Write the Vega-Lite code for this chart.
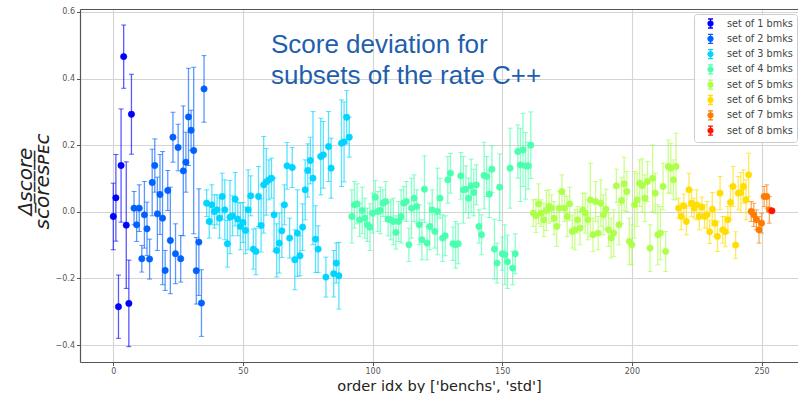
{
"$schema": "https://vega.github.io/schema/vega-lite/v6.json",
"width": 718, "height": 353,
"autosize": {"type": "none"},
"padding": {"left": 80, "top": 9, "right": 0, "bottom": 31},
"background": "white",
"config": {"view": {"stroke": null}, "font": "DejaVu Sans"},
"datasets": {
"note": [{"tx": 60.8, "ty": 0.4766, "label": "Score deviation for\nsubsets of the rate C++"}],
"pts": [
{"i":0,"v":-0.014,"e":0.10,"s":1},{"i":1,"v":0.042,"e":0.13,"s":1},{"i":2,"v":-0.285,"e":0.095,"s":1},{"i":3,"v":0.139,"e":0.17,"s":1},{"i":4,"v":0.466,"e":0.095,"s":1},{"i":5,"v":-0.04,"e":0.19,"s":1},{"i":6,"v":-0.275,"e":0.13,"s":1},{"i":7,"v":0.293,"e":0.12,"s":1},
{"i":8,"v":0.011,"e":0.05,"s":2},{"i":9,"v":-0.039,"e":0.05,"s":2},{"i":10,"v":0.011,"e":0.07,"s":2},{"i":11,"v":-0.141,"e":0.04,"s":2},{"i":12,"v":-0.009,"e":0.10,"s":2},{"i":13,"v":-0.051,"e":0.08,"s":2},{"i":14,"v":-0.142,"e":0.06,"s":2},{"i":15,"v":0.088,"e":0.10,"s":2},{"i":16,"v":0.139,"e":0.08,"s":2},{"i":17,"v":-0.006,"e":0.11,"s":2},{"i":18,"v":0.052,"e":0.12,"s":2},{"i":19,"v":-0.019,"e":0.2,"s":2},{"i":20,"v":-0.176,"e":0.06,"s":2},{"i":21,"v":0.064,"e":0.06,"s":2},{"i":22,"v":-0.086,"e":0.16,"s":2},{"i":23,"v":0.224,"e":0.075,"s":2},{"i":24,"v":-0.126,"e":0.09,"s":2},{"i":25,"v":0.193,"e":0.07,"s":2},{"i":26,"v":-0.141,"e":0.07,"s":2},{"i":27,"v":0.123,"e":0.195,"s":2},{"i":28,"v":0.149,"e":0.09,"s":2},{"i":29,"v":0.285,"e":0.146,"s":2},{"i":30,"v":0.245,"e":0.06,"s":2},{"i":31,"v":0.184,"e":0.25,"s":2},{"i":32,"v":-0.177,"e":0.10,"s":2},{"i":33,"v":-0.091,"e":0.16,"s":2},{"i":34,"v":-0.274,"e":0.10,"s":2},{"i":35,"v":0.369,"e":0.10,"s":2},
{"i":36,"v":0.026,"e":0.04,"s":3},{"i":37,"v":-0.029,"e":0.05,"s":3},{"i":38,"v":0.021,"e":0.06,"s":3},{"i":39,"v":0.001,"e":0.05,"s":3},{"i":40,"v":0.006,"e":0.045,"s":3},{"i":41,"v":-0.019,"e":0.06,"s":3},{"i":42,"v":0.046,"e":0.07,"s":3},{"i":43,"v":0.006,"e":0.09,"s":3},{"i":44,"v":-0.096,"e":0.07,"s":3},{"i":45,"v":-0.016,"e":0.11,"s":3},{"i":46,"v":-0.012,"e":0.06,"s":3},{"i":47,"v":0.038,"e":0.08,"s":3},{"i":48,"v":-0.022,"e":0.05,"s":3},{"i":49,"v":-0.044,"e":0.07,"s":3},{"i":50,"v":-0.032,"e":0.06,"s":3},{"i":51,"v":-0.056,"e":0.07,"s":3},{"i":52,"v":0.006,"e":0.12,"s":3},{"i":53,"v":0.048,"e":0.06,"s":3},{"i":54,"v":-0.112,"e":0.06,"s":3},{"i":55,"v":-0.119,"e":0.07,"s":3},{"i":56,"v":0.046,"e":0.09,"s":3},{"i":57,"v":-0.041,"e":0.08,"s":3},{"i":58,"v":0.081,"e":0.145,"s":3},{"i":59,"v":0.09,"e":0.1,"s":3},{"i":60,"v":0.096,"e":0.06,"s":3},{"i":61,"v":0.101,"e":0.06,"s":3},{"i":62,"v":-0.009,"e":0.11,"s":3},{"i":63,"v":-0.116,"e":0.08,"s":3},{"i":64,"v":-0.094,"e":0.09,"s":3},{"i":65,"v":-0.057,"e":0.08,"s":3},{"i":66,"v":0.021,"e":0.06,"s":3},{"i":67,"v":0.138,"e":0.07,"s":3},{"i":68,"v":-0.079,"e":0.06,"s":3},{"i":69,"v":0.133,"e":0.06,"s":3},{"i":70,"v":-0.144,"e":0.09,"s":3},{"i":71,"v":-0.064,"e":0.13,"s":3},{"i":72,"v":-0.132,"e":0.06,"s":3},{"i":73,"v":-0.046,"e":0.07,"s":3},{"i":74,"v":0.066,"e":0.09,"s":3},{"i":75,"v":0.124,"e":0.08,"s":3},{"i":76,"v":0.154,"e":0.07,"s":3},{"i":77,"v":0.101,"e":0.2,"s":3},{"i":78,"v":-0.082,"e":0.1,"s":3},{"i":79,"v":-0.112,"e":0.07,"s":3},{"i":80,"v":0.166,"e":0.115,"s":3},{"i":81,"v":0.171,"e":0.1,"s":3},{"i":82,"v":-0.196,"e":0.06,"s":3},{"i":83,"v":0.196,"e":0.105,"s":3},{"i":84,"v":0.131,"e":0.09,"s":3},{"i":85,"v":-0.186,"e":0.07,"s":3},{"i":86,"v":-0.154,"e":0.06,"s":3},{"i":87,"v":-0.192,"e":0.1,"s":3},{"i":88,"v":0.206,"e":0.13,"s":3},{"i":89,"v":0.21,"e":0.12,"s":3},{"i":90,"v":0.284,"e":0.08,"s":3},{"i":91,"v":0.224,"e":0.06,"s":3},
{"i":92,"v":-0.014,"e":0.08,"s":4},{"i":93,"v":0.021,"e":0.07,"s":4},{"i":94,"v":0.024,"e":0.06,"s":4},{"i":95,"v":-0.024,"e":0.05,"s":4},{"i":96,"v":0.004,"e":0.07,"s":4},{"i":97,"v":-0.019,"e":0.06,"s":4},{"i":98,"v":-0.039,"e":0.05,"s":4},{"i":99,"v":-0.046,"e":0.07,"s":4},{"i":100,"v":-0.004,"e":0.06,"s":4},{"i":101,"v":0.044,"e":0.05,"s":4},{"i":102,"v":0.001,"e":0.06,"s":4},{"i":103,"v":0.004,"e":0.07,"s":4},{"i":104,"v":0.026,"e":0.04,"s":4},{"i":105,"v":0.031,"e":0.06,"s":4},{"i":106,"v":-0.022,"e":0.05,"s":4},{"i":107,"v":-0.024,"e":0.06,"s":4},{"i":108,"v":-0.029,"e":0.07,"s":4},{"i":109,"v":-0.062,"e":0.05,"s":4},{"i":110,"v":-0.029,"e":0.06,"s":4},{"i":111,"v":-0.014,"e":0.08,"s":4},{"i":112,"v":0.026,"e":0.05,"s":4},{"i":113,"v":0.031,"e":0.06,"s":4},{"i":114,"v":-0.099,"e":0.05,"s":4},{"i":115,"v":0.011,"e":0.09,"s":4},{"i":116,"v":0.041,"e":0.07,"s":4},{"i":117,"v":0.016,"e":0.05,"s":4},{"i":118,"v":-0.039,"e":0.06,"s":4},{"i":119,"v":-0.084,"e":0.06,"s":4},{"i":120,"v":0.068,"e":0.1,"s":4},{"i":121,"v":-0.094,"e":0.05,"s":4},{"i":122,"v":-0.044,"e":0.07,"s":4},{"i":123,"v":0.006,"e":0.06,"s":4},{"i":124,"v":-0.059,"e":0.05,"s":4},{"i":125,"v":0.001,"e":0.13,"s":4},{"i":126,"v":0.041,"e":0.06,"s":4},{"i":127,"v":-0.079,"e":0.07,"s":4},{"i":128,"v":-0.072,"e":0.06,"s":4},{"i":129,"v":0.096,"e":0.07,"s":4},{"i":130,"v":0.116,"e":0.06,"s":4},{"i":131,"v":-0.096,"e":0.05,"s":4},{"i":132,"v":-0.099,"e":0.07,"s":4},{"i":133,"v":-0.096,"e":0.06,"s":4},{"i":134,"v":0.108,"e":0.07,"s":4},{"i":135,"v":0.066,"e":0.1,"s":4},{"i":136,"v":0.068,"e":0.07,"s":4},{"i":137,"v":0.041,"e":0.06,"s":4},{"i":138,"v":0.078,"e":0.08,"s":4},{"i":139,"v":0.058,"e":0.07,"s":4},{"i":140,"v":0.081,"e":0.06,"s":4},{"i":141,"v":-0.044,"e":0.05,"s":4},{"i":142,"v":-0.069,"e":0.06,"s":4},{"i":143,"v":0.109,"e":0.1,"s":4},{"i":144,"v":0.106,"e":0.06,"s":4},{"i":145,"v":0.053,"e":0.07,"s":4},{"i":146,"v":0.128,"e":0.07,"s":4},{"i":147,"v":-0.112,"e":0.09,"s":4},{"i":148,"v":-0.154,"e":0.06,"s":4},{"i":149,"v":0.074,"e":0.1,"s":4},{"i":150,"v":-0.126,"e":0.05,"s":4},{"i":151,"v":-0.129,"e":0.09,"s":4},{"i":152,"v":-0.15,"e":0.08,"s":4},{"i":153,"v":0.131,"e":0.12,"s":4},{"i":154,"v":-0.169,"e":0.05,"s":4},{"i":155,"v":-0.126,"e":0.06,"s":4},{"i":156,"v":0.181,"e":0.08,"s":4},{"i":157,"v":0.141,"e":0.11,"s":4},{"i":158,"v":0.186,"e":0.11,"s":4},{"i":159,"v":0.138,"e":0.1,"s":4},{"i":160,"v":0.138,"e":0.07,"s":4},{"i":161,"v":0.2,"e":0.1,"s":4},
{"i":162,"v":-0.004,"e":0.04,"s":5},{"i":163,"v":-0.012,"e":0.05,"s":5},{"i":164,"v":0.024,"e":0.06,"s":5},{"i":165,"v":-0.004,"e":0.04,"s":5},{"i":166,"v":-0.024,"e":0.05,"s":5},{"i":167,"v":0.004,"e":0.06,"s":5},{"i":168,"v":0.016,"e":0.05,"s":5},{"i":169,"v":0.011,"e":0.04,"s":5},{"i":170,"v":-0.019,"e":0.05,"s":5},{"i":171,"v":-0.044,"e":0.06,"s":5},{"i":172,"v":0.011,"e":0.05,"s":5},{"i":173,"v":0.061,"e":0.05,"s":5},{"i":174,"v":0.011,"e":0.04,"s":5},{"i":175,"v":-0.014,"e":0.06,"s":5},{"i":176,"v":0.024,"e":0.05,"s":5},{"i":177,"v":-0.059,"e":0.05,"s":5},{"i":178,"v":-0.054,"e":0.06,"s":5},{"i":179,"v":-0.024,"e":0.04,"s":5},{"i":180,"v":-0.049,"e":0.05,"s":5},{"i":181,"v":0.006,"e":0.05,"s":5},{"i":182,"v":-0.004,"e":0.06,"s":5},{"i":183,"v":-0.024,"e":0.06,"s":5},{"i":184,"v":0.036,"e":0.11,"s":5},{"i":185,"v":-0.069,"e":0.05,"s":5},{"i":186,"v":0.031,"e":0.06,"s":5},{"i":187,"v":-0.064,"e":0.05,"s":5},{"i":188,"v":0.026,"e":0.07,"s":5},{"i":189,"v":-0.009,"e":0.06,"s":5},{"i":190,"v":0.008,"e":0.06,"s":5},{"i":191,"v":-0.054,"e":0.05,"s":5},{"i":192,"v":-0.079,"e":0.06,"s":5},{"i":193,"v":-0.064,"e":0.07,"s":5},{"i":194,"v":0.078,"e":0.05,"s":5},{"i":195,"v":-0.039,"e":0.06,"s":5},{"i":196,"v":0.034,"e":0.07,"s":5},{"i":197,"v":0.084,"e":0.08,"s":5},{"i":198,"v":0.061,"e":0.06,"s":5},{"i":199,"v":-0.089,"e":0.07,"s":5},{"i":200,"v":-0.099,"e":0.06,"s":5},{"i":201,"v":0.021,"e":0.1,"s":5},{"i":202,"v":0.036,"e":0.08,"s":5},{"i":203,"v":0.086,"e":0.07,"s":5},{"i":204,"v":0.079,"e":0.08,"s":5},{"i":205,"v":0.041,"e":0.07,"s":5},{"i":206,"v":0.091,"e":0.06,"s":5},{"i":207,"v":-0.109,"e":0.07,"s":5},{"i":208,"v":0.101,"e":0.1,"s":5},{"i":209,"v":0.056,"e":0.06,"s":5},{"i":210,"v":-0.069,"e":0.09,"s":5},{"i":211,"v":-0.064,"e":0.08,"s":5},{"i":212,"v":0.076,"e":0.07,"s":5},{"i":213,"v":-0.119,"e":0.06,"s":5},{"i":214,"v":0.136,"e":0.08,"s":5},{"i":215,"v":0.131,"e":0.075,"s":5},{"i":216,"v":0.096,"e":0.06,"s":5},{"i":217,"v":0.136,"e":0.1,"s":5},
{"i":218,"v":0.011,"e":0.03,"s":6},{"i":219,"v":-0.014,"e":0.04,"s":6},{"i":220,"v":0.018,"e":0.035,"s":6},{"i":221,"v":-0.029,"e":0.04,"s":6},{"i":222,"v":0.066,"e":0.05,"s":6},{"i":223,"v":0.026,"e":0.04,"s":6},{"i":224,"v":0.011,"e":0.03,"s":6},{"i":225,"v":0.021,"e":0.045,"s":6},{"i":226,"v":-0.014,"e":0.04,"s":6},{"i":227,"v":0.014,"e":0.03,"s":6},{"i":228,"v":-0.014,"e":0.035,"s":6},{"i":229,"v":-0.009,"e":0.04,"s":6},{"i":230,"v":-0.06,"e":0.035,"s":6},{"i":231,"v":0.008,"e":0.05,"s":6},{"i":232,"v":-0.034,"e":0.04,"s":6},{"i":233,"v":-0.074,"e":0.045,"s":6},{"i":234,"v":0.056,"e":0.05,"s":6},{"i":235,"v":-0.054,"e":0.04,"s":6},{"i":236,"v":-0.06,"e":0.045,"s":6},{"i":237,"v":-0.024,"e":0.04,"s":6},{"i":238,"v":0.028,"e":0.05,"s":6},{"i":239,"v":0.076,"e":0.06,"s":6},{"i":240,"v":-0.1,"e":0.04,"s":6},{"i":241,"v":0.056,"e":0.05,"s":6},{"i":242,"v":0.058,"e":0.06,"s":6},{"i":243,"v":0.076,"e":0.05,"s":6},{"i":244,"v":0.036,"e":0.06,"s":6},{"i":245,"v":0.111,"e":0.065,"s":6},
{"i":246,"v":0.001,"e":0.03,"s":7},{"i":247,"v":-0.009,"e":0.035,"s":7},{"i":248,"v":-0.024,"e":0.03,"s":7},{"i":249,"v":-0.054,"e":0.04,"s":7},{"i":250,"v":-0.034,"e":0.03,"s":7},{"i":251,"v":0.046,"e":0.03,"s":7},{"i":252,"v":0.046,"e":0.035,"s":7},{"i":253,"v":0.006,"e":0.04,"s":7},
{"i":254,"v":0.003,"e":0.005,"s":8}
]},
"resolve": {"axis": {"x": "independent", "y": "independent"}, "legend": {"color": "independent"}},
"layer": [
{"data": {"name": "pts"},
 "mark": {"type": "errorbar", "opacity": 0.65, "ticks": {"size": 5, "strokeWidth": 1.3}, "rule": {"strokeWidth": 1.3}},
 "encoding": {
  "x": {"field": "i", "type": "quantitative", "scale": {"domain": [-12.84, 264.05], "nice": false, "zero": false}, "axis": null},
  "y": {"field": "v", "type": "quantitative", "scale": {"domain": [-0.451, 0.609], "nice": false, "zero": false}, "axis": null},
  "yError": {"field": "e"},
  "color": {"field": "s", "type": "ordinal", "scale": {"domain": [1,2,3,4,5,6,7,8], "range": ["#0000ff","#0061ff","#00d4ff","#4affad","#adff4a","#ffdd00","#ff7b00","#ff1200"]}, "legend": null}
 }},
{"data": {"name": "pts"},
 "mark": {"type": "point", "filled": true, "size": 40, "opacity": 1, "strokeWidth": 0.6},
 "encoding": {
  "x": {"field": "i", "type": "quantitative", "axis": {"orient": "bottom", "values": [0,50,100,150,200,250], "title": "order idx by ['benchs', 'std']", "titleFont": "DejaVu Sans", "titleFontSize": 14.6, "titleFontWeight": "normal", "titleColor": "#222", "titleY": 28, "titleBaseline": "alphabetic", "labelFont": "DejaVu Sans", "labelFontSize": 8, "labelColor": "#555", "tickColor": "#555", "tickSize": 3.5, "labelPadding": 2, "grid": true, "gridColor": "#d4d4d4", "gridWidth": 1.1, "domainColor": "#555", "domainWidth": 1.2}},
  "y": {"field": "v", "type": "quantitative", "axis": {"orient": "left", "values": [-0.4,-0.2,0,0.2,0.4,0.6], "format": ".1f", "labelFont": "DejaVu Sans", "labelFontSize": 8, "labelColor": "#555", "tickColor": "#555", "tickSize": 3.5, "labelPadding": 2, "grid": true, "gridColor": "#d4d4d4", "gridWidth": 1.1, "domainColor": "#555", "domainWidth": 1.2,
     "title": ["Δ̲s̲c̲o̲r̲e̲", "scoreꜱᴘᴇᴄ"], "titleFont": "DejaVu Sans", "titleFontStyle": "italic", "titleFontWeight": "normal", "titleFontSize": 20, "titleColor": "#222", "titleAngle": 270, "titleAlign": "center", "titleBaseline": "alphabetic", "titleX": -49, "titleY": 172, "titleLineHeight": 17}},
  "stroke": {"field": "s", "type": "ordinal", "scale": {"domain": [1,2,3,4,5,6,7,8], "range": ["#0000ff","#0061ff","#00d4ff","#4affad","#adff4a","#ffdd00","#ff7b00","#ff1200"]}, "legend": {"orient": "none", "legendX": 614, "legendY": 5, "title": null, "labelExpr": "'set of ' + datum.label + ' bmks'", "symbolType": "M0,-1V1M-0.55,-1H0.55M-0.55,1H0.55M-0.55,0A0.55,0.55,0,1,0,0.55,0A0.55,0.55,0,1,0,-0.55,0Z", "symbolSize": 81, "symbolStrokeWidth": 1.3, "symbolOffset": 7, "padding": 4, "rowPadding": 0.3, "labelOffset": 11, "labelFontSize": 9.7, "labelFont": "DejaVu Sans", "labelColor": "#444", "fillColor": "rgba(255,255,255,0.85)", "strokeColor": "#cccccc", "cornerRadius": 3,
     "encode": {"symbols": {"update": {"size": {"value": 81}, "strokeWidth": {"value": 1.3}, "opacity": {"value": 1}}}}}},
  "fill": {"field": "s", "type": "ordinal", "scale": {"domain": [1,2,3,4,5,6,7,8], "range": ["#0000ff","#0061ff","#00d4ff","#4affad","#adff4a","#ffdd00","#ff7b00","#ff1200"]}, "legend": {"orient": "none", "legendX": 614, "legendY": 5, "title": null, "labelExpr": "'set of ' + datum.label + ' bmks'", "symbolType": "M0,-1V1M-0.55,-1H0.55M-0.55,1H0.55M-0.55,0A0.55,0.55,0,1,0,0.55,0A0.55,0.55,0,1,0,-0.55,0Z", "symbolSize": 81, "symbolStrokeWidth": 1.3, "symbolOffset": 7, "padding": 4, "rowPadding": 0.3, "labelOffset": 11, "labelFontSize": 9.7, "labelFont": "DejaVu Sans", "labelColor": "#444", "fillColor": "rgba(255,255,255,0.85)", "strokeColor": "#cccccc", "cornerRadius": 3,
     "encode": {"symbols": {"update": {"size": {"value": 81}, "strokeWidth": {"value": 1.3}, "opacity": {"value": 1}}}}}}
 }},
{"data": {"name": "note"},
 "mark": {"type": "text", "align": "left", "baseline": "alphabetic", "font": "Liberation Sans", "fontSize": 26, "color": "#1f5fad", "lineBreak": "\n", "lineHeight": 30.5},
 "encoding": {
  "x": {"field": "tx", "type": "quantitative", "axis": {"orient": "top", "labels": false, "ticks": false, "grid": false, "domain": true, "domainColor": "#555", "domainWidth": 1.2, "title": null}},
  "y": {"field": "ty", "type": "quantitative", "axis": null},
  "text": {"field": "label"}
 }}
]
}
